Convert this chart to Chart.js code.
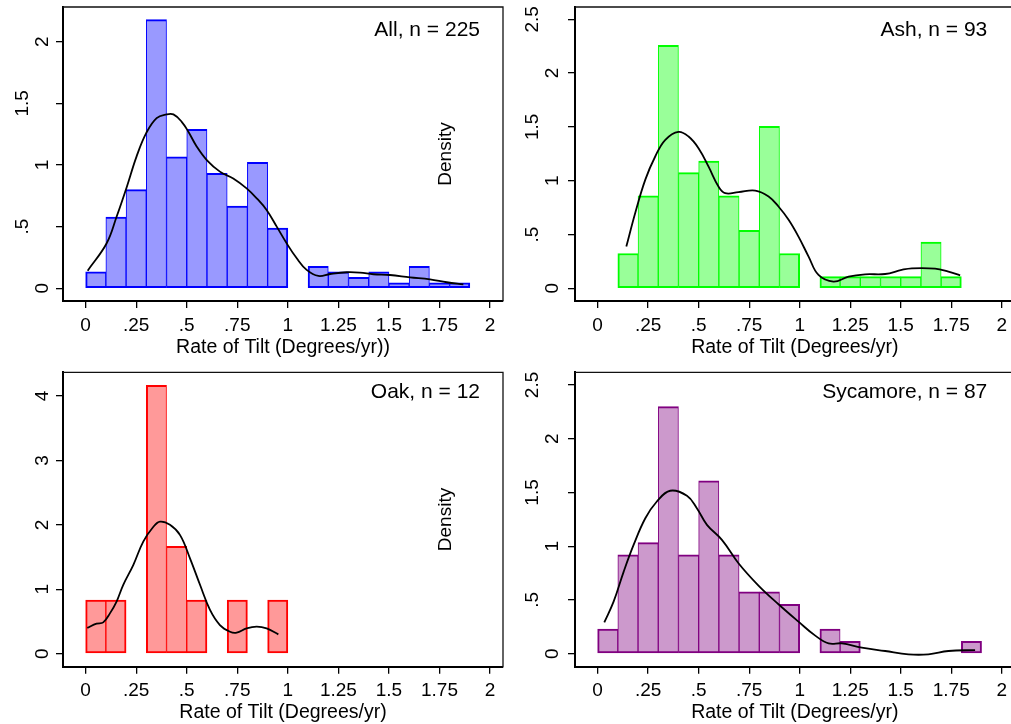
<!DOCTYPE html>
<html>
<head>
<meta charset="utf-8">
<script src="https://cdn.jsdelivr.net/npm/chart.js@4.4.1/dist/chart.umd.min.js"></script>
<style>
html, body { margin: 0; padding: 0; background: #fff; overflow: hidden; }
body { width: 1011px; height: 724px; position: relative; }
canvas { position: absolute; display: block; }
</style>
</head>
<body>
<canvas id="all" width="505" height="362" style="left:0;top:0"></canvas>
<canvas id="ash" width="515" height="362" style="left:505px;top:0"></canvas>
<canvas id="oak" width="505" height="361" style="left:0;top:363px"></canvas>
<canvas id="syc" width="515" height="361" style="left:505px;top:363px"></canvas>
<script>
// histogram bins (lower edges), width 0.1
const binStarts = [0, 0.1, 0.2, 0.3, 0.4, 0.5, 0.6, 0.7, 0.8, 0.9, 1.0, 1.1, 1.2, 1.3, 1.4, 1.5, 1.6, 1.7, 1.8];
const binWidth = 0.1;
const xTicks = [0, 0.25, 0.5, 0.75, 1, 1.25, 1.5, 1.75, 2];

const allDensity = [0.133, 0.578, 0.8, 2.178, 1.067, 1.289, 0.933, 0.667, 1.022, 0.489, 0, 0.178, 0.133, 0.089, 0.133, 0.044, 0.178, 0.044, 0.044];
const ashDensity = [0, 0.323, 0.86, 2.258, 1.075, 1.183, 0.86, 0.538, 1.505, 0.323, 0, 0.108, 0.108, 0.108, 0.108, 0.108, 0.43, 0.108, 0];
const oakDensity = [0.833, 0.833, 0, 4.167, 1.667, 0.833, 0, 0.833, 0, 0.833, 0, 0, 0, 0, 0, 0, 0, 0, 0];
const sycDensity = [0.23, 0.92, 1.034, 2.299, 0.92, 1.609, 0.92, 0.575, 0.575, 0.46, 0, 0.23, 0.115, 0, 0, 0, 0, 0, 0.115];

// kernel density curves
const allKdeX = [0.01, 0.104, 0.153, 0.203, 0.252, 0.30, 0.351, 0.40, 0.434, 0.475, 0.508, 0.549, 0.599, 0.664, 0.73, 0.796, 0.846, 0.895, 0.945, 0.994, 1.044, 1.093, 1.151, 1.209, 1.291, 1.357, 1.423, 1.505, 1.604, 1.703, 1.786, 1.868];
const allKdeY = [0.143, 0.365, 0.58, 0.82, 1.07, 1.26, 1.38, 1.41, 1.41, 1.35, 1.27, 1.15, 1.04, 0.946, 0.89, 0.81, 0.73, 0.635, 0.50, 0.365, 0.243, 0.149, 0.10, 0.116, 0.13, 0.127, 0.114, 0.108, 0.089, 0.073, 0.049, 0.032];
const ashKdeX = [0.142, 0.186, 0.236, 0.285, 0.335, 0.40, 0.45, 0.50, 0.549, 0.598, 0.631, 0.697, 0.78, 0.846, 0.895, 0.945, 0.994, 1.044, 1.093, 1.167, 1.242, 1.324, 1.423, 1.505, 1.555, 1.67, 1.736, 1.794];
const ashKdeY = [0.388, 0.70, 1.01, 1.225, 1.38, 1.454, 1.41, 1.30, 1.13, 0.946, 0.884, 0.893, 0.908, 0.853, 0.76, 0.636, 0.48, 0.295, 0.124, 0.062, 0.109, 0.13, 0.133, 0.171, 0.186, 0.183, 0.155, 0.121];
const oakKdeX = [0.008, 0.054, 0.087, 0.12, 0.153, 0.186, 0.236, 0.285, 0.335, 0.368, 0.417, 0.467, 0.516, 0.566, 0.615, 0.664, 0.714, 0.747, 0.796, 0.846, 0.895, 0.953];
const oakKdeY = [0.40, 0.466, 0.486, 0.626, 0.81, 1.07, 1.38, 1.74, 1.97, 2.05, 2.0, 1.84, 1.48, 1.066, 0.68, 0.445, 0.34, 0.326, 0.393, 0.42, 0.393, 0.30];
const sycKdeX = [0.033, 0.079, 0.129, 0.178, 0.236, 0.293, 0.359, 0.442, 0.491, 0.541, 0.615, 0.697, 0.796, 0.895, 0.994, 1.077, 1.143, 1.209, 1.307, 1.423, 1.538, 1.637, 1.736, 1.868];
const sycKdeY = [0.292, 0.484, 0.764, 1.012, 1.26, 1.416, 1.516, 1.469, 1.354, 1.199, 1.059, 0.842, 0.634, 0.46, 0.298, 0.168, 0.096, 0.096, 0.056, 0.025, -0.006, -0.006, 0.025, 0.034];

const FONT = '"Liberation Sans", Arial, Helvetica, sans-serif';

function fmt(v) {
    return String(v).replace(/^0\./, '.');
}

function textPlugin(p) {
    return {
        id: 'stataText',
        afterDraw(chart) {
            const ctx = chart.ctx;
            const a = chart.chartArea;
            const ys = chart.scales.y;
            ctx.save();
            // plot region frame, top and right
            ctx.strokeStyle = '#111';
            ctx.lineWidth = 1.3;
            ctx.beginPath();
            ctx.moveTo(a.left, a.top);
            ctx.lineTo(a.right, a.top);
            ctx.lineTo(a.right, a.bottom);
            ctx.stroke();

            ctx.fillStyle = '#000';
            ctx.font = '19px ' + FONT;
            ctx.textAlign = 'center';
            ctx.textBaseline = 'alphabetic';
            p.yTicks.forEach(v => {
                const lab = fmt(v);
                const off = lab.includes('.') ? p.outer : p.inner;
                ctx.save();
                ctx.translate(a.left - off, ys.getPixelForValue(v));
                ctx.rotate(-Math.PI / 2);
                ctx.fillText(lab, 0, 0);
                ctx.restore();
            });
            if (p.densityAt) {
                ctx.save();
                ctx.translate(p.densityAt[0], p.densityAt[1]);
                ctx.rotate(-Math.PI / 2);
                ctx.fillText('Density', 0, 0);
                ctx.restore();
            }
            ctx.font = '21px ' + FONT;
            ctx.textAlign = 'right';
            ctx.fillText(p.note, p.noteX, p.noteY);
            ctx.restore();
        }
    };
}

function makePanel(id, p) {
    const vals = p.density;
    const bars = binStarts.map((s, i) => ({ x: s + binWidth / 2, y: vals[i] || null }));
    const kde = p.kdeX.map((x, i) => ({ x: x, y: p.kdeY[i] }));
    new Chart(document.getElementById(id), {
        type: 'bar',
        data: {
            datasets: [{
                type: 'line',
                data: kde,
                borderColor: '#000',
                borderWidth: 1.8,
                pointRadius: 0,
                tension: 0.4,
                fill: false
            }, {
                type: 'bar',
                data: bars,
                backgroundColor: p.fill,
                borderColor: p.line,
                borderSkipped: false,
                borderWidth: c => ({
                    top: 2, bottom: 2,
                    left: vals[c.dataIndex - 1] ? 1 : 2,
                    right: vals[c.dataIndex + 1] ? 1 : 2
                }),
                barPercentage: 1,
                categoryPercentage: 1
            }]
        },
        options: {
            responsive: false,
            animation: false,
            events: [],
            layout: { padding: { left: 0, top: p.top, right: p.right, bottom: 0 } },
            plugins: { legend: { display: false }, tooltip: { enabled: false } },
            scales: {
                x: {
                    type: 'linear',
                    min: -0.112,
                    max: 2.064,
                    offset: false,
                    afterBuildTicks: s => { s.ticks = xTicks.map(v => ({ value: v })); },
                    afterFit: s => { s.height = p.xHeight; },
                    ticks: { callback: v => fmt(v), color: '#000', font: { family: FONT, size: 19 }, padding: 6, maxRotation: 0, autoSkip: false },
                    grid: { display: true, offset: false, drawOnChartArea: false, drawTicks: true, tickLength: 7, color: '#000', lineWidth: 1.3 },
                    border: { display: true, color: '#000', width: 2 },
                    title: { display: true, text: p.xTitle, color: '#000', font: { family: FONT, size: 19.5 }, padding: { top: 0, bottom: p.titlePad } }
                },
                y: {
                    type: 'linear',
                    min: p.yMin,
                    max: p.yMax,
                    afterBuildTicks: s => { s.ticks = p.yTicks.map(v => ({ value: v })); },
                    afterFit: s => { s.width = p.left; },
                    ticks: { display: false },
                    grid: { display: true, offset: false, drawOnChartArea: false, drawTicks: true, tickLength: 7, color: '#000', lineWidth: 1.3 },
                    border: { display: true, color: '#000', width: 2 }
                }
            }
        },
        plugins: [textPlugin(p)]
    });
}

makePanel('all', {
    density: allDensity, kdeX: allKdeX, kdeY: allKdeY,
    fill: '#9999ff', line: '#0000ff',
    top: 7, right: 2, left: 63, xHeight: 61, titlePad: 2.8,
    yMin: -0.103, yMax: 2.281, yTicks: [0, 0.5, 1, 1.5, 2], inner: 14.7, outer: 34.7,
    xTitle: 'Rate of Tilt (Degrees/yr))',
    note: 'All, n = 225', noteX: 480, noteY: 36,
    densityAt: [450.5, 154]
});

makePanel('ash', {
    density: ashDensity, kdeX: ashKdeX, kdeY: ashKdeY,
    fill: '#99ff99', line: '#00ff00',
    top: 7, right: 5.3, left: 70, xHeight: 61, titlePad: 2.8,
    yMin: -0.118, yMax: 2.614, yTicks: [0, 0.5, 1, 1.5, 2, 2.5], inner: 16.7, outer: 36.7,
    xTitle: 'Rate of Tilt (Degrees/yr)',
    note: 'Ash, n = 93', noteX: 482.3, noteY: 36
});

makePanel('oak', {
    density: oakDensity, kdeX: oakKdeX, kdeY: oakKdeY,
    fill: '#ff9999', line: '#ff0000',
    top: 9.3, right: 2, left: 63, xHeight: 57.3, titlePad: 0,
    yMin: -0.202, yMax: 4.368, yTicks: [0, 1, 2, 3, 4], inner: 14.7, outer: 34.7,
    xTitle: 'Rate of Tilt (Degrees/yr)',
    note: 'Oak, n = 12', noteX: 480, noteY: 35.3,
    densityAt: [450.5, 156.5]
});

makePanel('syc', {
    density: sycDensity, kdeX: sycKdeX, kdeY: sycKdeY,
    fill: '#cc99cc', line: '#800080',
    top: 9.3, right: 5.3, left: 70, xHeight: 57.3, titlePad: 0,
    yMin: -0.121, yMax: 2.618, yTicks: [0, 0.5, 1, 1.5, 2, 2.5], inner: 16.7, outer: 36.7,
    xTitle: 'Rate of Tilt (Degrees/yr)',
    note: 'Sycamore, n = 87', noteX: 482.3, noteY: 35.3
});
</script>
</body>
</html>
